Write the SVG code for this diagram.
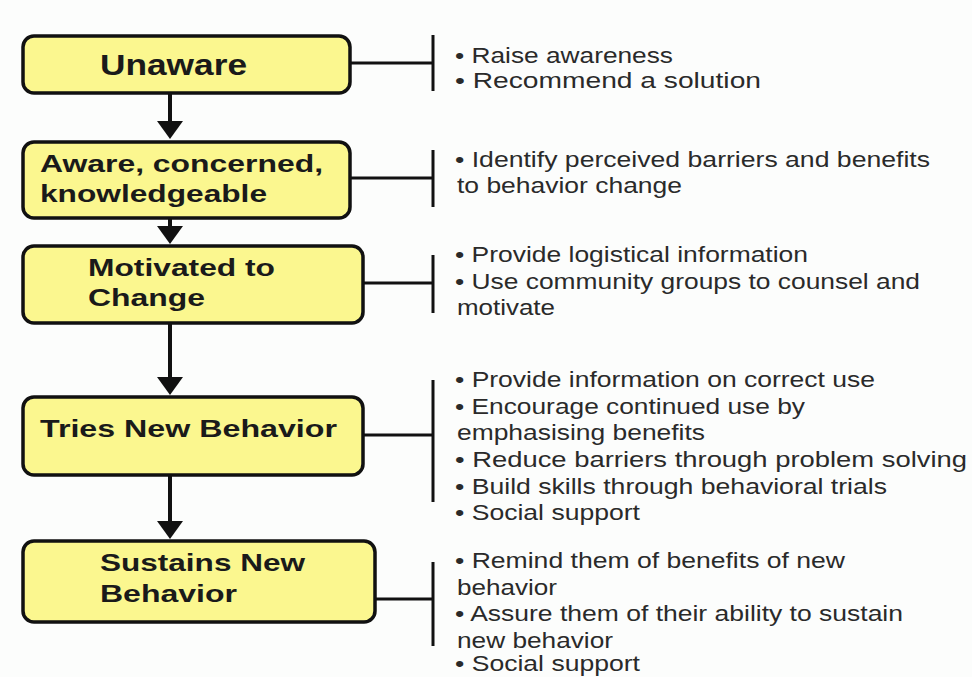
<svg xmlns="http://www.w3.org/2000/svg" width="972" height="677" viewBox="0 0 972 677">
<style>
.bg{fill:#fcfdfc}
.box{fill:#fbf78f;stroke:#111;stroke-width:3.5}
.lbl{font-family:"Liberation Sans",Arial,sans-serif;font-weight:bold;font-size:24px;fill:#1a1a1a}
.big{font-size:30px}
.note{font-family:"Liberation Sans",Arial,sans-serif;font-size:22px;fill:#2a2a2a}
.flow{stroke:#111;stroke-width:4;fill:none}
.head{fill:#111}
.br{stroke:#111;stroke-width:3;fill:none}
</style>
<rect class="bg" x="0" y="0" width="972" height="677"/>

<g id="connectors">
<line class="flow" x1="170" y1="93" x2="170" y2="122"/>
<path class="head" d="M157,121 L183,121 L170,139 Z"/>
<line class="flow" x1="170" y1="218" x2="170" y2="227"/>
<path class="head" d="M157,226 L183,226 L170,244 Z"/>
<line class="flow" x1="170" y1="323" x2="170" y2="378"/>
<path class="head" d="M157,377 L183,377 L170,395 Z"/>
<line class="flow" x1="170" y1="475" x2="170" y2="522"/>
<path class="head" d="M157,521 L183,521 L170,539 Z"/>

<line class="br" x1="350" y1="63" x2="433" y2="63"/>
<line class="br" x1="433" y1="35" x2="433" y2="91"/>
<line class="br" x1="350" y1="178" x2="433" y2="178"/>
<line class="br" x1="433" y1="150" x2="433" y2="207"/>
<line class="br" x1="363" y1="283" x2="433" y2="283"/>
<line class="br" x1="433" y1="255" x2="433" y2="313"/>
<line class="br" x1="363" y1="435" x2="433" y2="435"/>
<line class="br" x1="433" y1="380" x2="433" y2="502"/>
<line class="br" x1="375" y1="599" x2="433" y2="599"/>
<line class="br" x1="433" y1="562" x2="433" y2="646"/>
</g>

<g id="node-unaware">
<rect class="box" x="23" y="36" width="327" height="57" rx="11"/>
<text class="lbl big" x="100" y="75" textLength="147" lengthAdjust="spacingAndGlyphs">Unaware</text>
</g>
<g id="node-aware">
<rect class="box" x="23" y="142" width="327" height="76" rx="11"/>
<text class="lbl" x="40" y="172" textLength="283" lengthAdjust="spacingAndGlyphs">Aware, concerned,</text>
<text class="lbl" x="40" y="202" textLength="227" lengthAdjust="spacingAndGlyphs">knowledgeable</text>
</g>
<g id="node-motivated">
<rect class="box" x="23" y="246" width="340" height="77" rx="11"/>
<text class="lbl" x="88" y="276" textLength="187" lengthAdjust="spacingAndGlyphs">Motivated to</text>
<text class="lbl" x="88" y="306" textLength="117" lengthAdjust="spacingAndGlyphs">Change</text>
</g>
<g id="node-tries">
<rect class="box" x="23" y="397" width="340" height="78" rx="11"/>
<text class="lbl" x="40" y="437" textLength="297" lengthAdjust="spacingAndGlyphs">Tries New Behavior</text>
</g>
<g id="node-sustains">
<rect class="box" x="23" y="541" width="352" height="81" rx="11"/>
<text class="lbl" x="100" y="571" textLength="205" lengthAdjust="spacingAndGlyphs">Sustains New</text>
<text class="lbl" x="100" y="602" textLength="137" lengthAdjust="spacingAndGlyphs">Behavior</text>
</g>

<g id="notes-unaware">
<text class="note" x="455" y="63" textLength="218" lengthAdjust="spacingAndGlyphs">• Raise awareness</text>
<text class="note" x="455" y="88" textLength="306" lengthAdjust="spacingAndGlyphs">• Recommend a solution</text>
</g>
<g id="notes-aware">
<text class="note" x="455" y="167" textLength="475" lengthAdjust="spacingAndGlyphs">• Identify perceived barriers and benefits</text>
<text class="note" x="457" y="193" textLength="225" lengthAdjust="spacingAndGlyphs">to behavior change</text>
</g>
<g id="notes-motivated">
<text class="note" x="455" y="262" textLength="353" lengthAdjust="spacingAndGlyphs">• Provide logistical information</text>
<text class="note" x="455" y="289" textLength="465" lengthAdjust="spacingAndGlyphs">• Use community groups to counsel and</text>
<text class="note" x="457" y="315" textLength="98" lengthAdjust="spacingAndGlyphs">motivate</text>
</g>
<g id="notes-tries">
<text class="note" x="455" y="387" textLength="420" lengthAdjust="spacingAndGlyphs">• Provide information on correct use</text>
<text class="note" x="455" y="414" textLength="350" lengthAdjust="spacingAndGlyphs">• Encourage continued use by</text>
<text class="note" x="457" y="440" textLength="248" lengthAdjust="spacingAndGlyphs">emphasising benefits</text>
<text class="note" x="455" y="467" textLength="512" lengthAdjust="spacingAndGlyphs">• Reduce barriers through problem solving</text>
<text class="note" x="455" y="494" textLength="432" lengthAdjust="spacingAndGlyphs">• Build skills through behavioral trials</text>
<text class="note" x="455" y="520" textLength="185" lengthAdjust="spacingAndGlyphs">• Social support</text>
</g>
<g id="notes-sustains">
<text class="note" x="455" y="568" textLength="390" lengthAdjust="spacingAndGlyphs">• Remind them of benefits of new</text>
<text class="note" x="457" y="595" textLength="100" lengthAdjust="spacingAndGlyphs">behavior</text>
<text class="note" x="455" y="621" textLength="448" lengthAdjust="spacingAndGlyphs">• Assure them of their ability to sustain</text>
<text class="note" x="457" y="648" textLength="156" lengthAdjust="spacingAndGlyphs">new behavior</text>
<text class="note" x="455" y="671" textLength="185" lengthAdjust="spacingAndGlyphs">• Social support</text>
</g>
</svg>
